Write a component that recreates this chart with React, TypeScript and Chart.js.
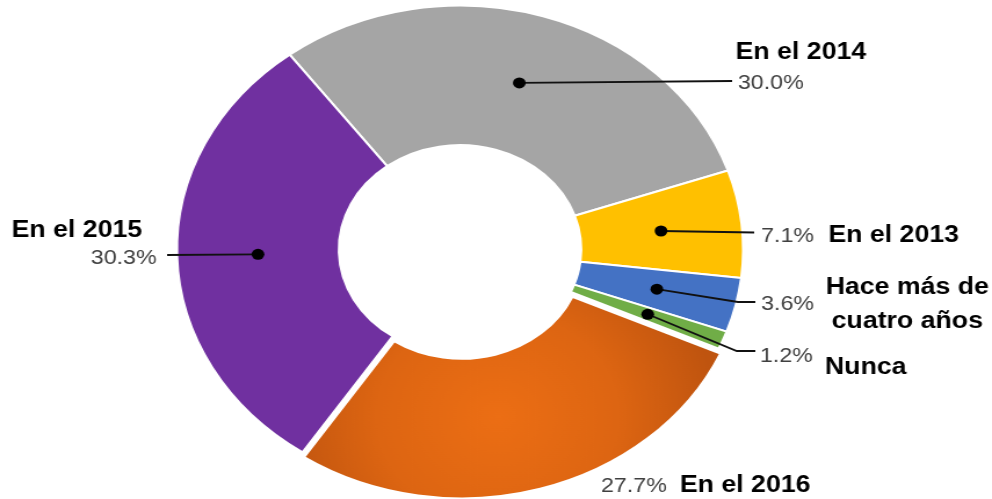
import React, { useEffect, useRef } from "react";
import { Chart, registerables } from "chart.js";

Chart.register(...registerables);

// ---- data ----
const categories = ["En el 2014", "En el 2013", "Hace más de cuatro años", "Nunca", "En el 2016", "En el 2015"];
const values = [30.0, 7.1, 3.6, 1.2, 27.7, 30.3];
const percentLabels = ["30.0%", "7.1%", "3.6%", "1.2%", "27.7%", "30.3%"];
const nameLines = [["En el 2014"], ["En el 2013"], ["Hace más de", "cuatro años"], ["Nunca"], ["En el 2016"], ["En el 2015"]];
const colors = ["#A5A5A5", "#FFC000", "#4472C4", "#70AD47", "#E46C0A", "#7030A0"];

// horizontal stretch of the whole picture
const STRETCH = 1.16;
const W = Math.round(992 / STRETCH);
const H = 499;

// label layout (internal canvas coordinates)
type Lay = {
  dot: boolean;
  leader: number[][];
  pct: { x: number; y: number; align: CanvasTextAlign };
  name: { x: number; y: number; align: CanvasTextAlign; gap: number };
};
const layouts: Lay[] = [
  { dot: true, leader: [[631, 81]], pct: { x: 636, y: 89, align: "left" }, name: { x: 634, y: 59, align: "left", gap: 0 } },
  { dot: true, leader: [[650, 232.5]], pct: { x: 656, y: 241.5, align: "left" }, name: { x: 714, y: 242, align: "left", gap: 0 } },
  { dot: true, leader: [[636, 302], [651, 302]], pct: { x: 656, y: 310, align: "left" }, name: { x: 782, y: 293.5, align: "center", gap: 34 } },
  { dot: true, leader: [[635, 351], [651, 351]], pct: { x: 655, y: 362, align: "left" }, name: { x: 711, y: 374, align: "left", gap: 0 } },
  { dot: false, leader: [], pct: { x: 518, y: 492, align: "left" }, name: { x: 586, y: 492, align: "left", gap: 0 } },
  { dot: true, leader: [[144, 255]], pct: { x: 135, y: 264, align: "right" }, name: { x: 10, y: 236.5, align: "left", gap: 0 } },
];

const labelPlugin = {
  id: "calloutLabels",
  beforeDatasetsDraw(chart: any) {
    const meta = chart.getDatasetMeta(0);
    const arc = meta.data[4];
    if (!arc) return;
    const p = arc.getCenterPoint();
    const g = chart.ctx.createRadialGradient(p.x - 20, p.y - 15, 0, p.x - 20, p.y - 15, 190);
    g.addColorStop(0, "#EC6E14");
    g.addColorStop(0.55, "#DD6512");
    g.addColorStop(1, "#BF540F");
    arc.options.backgroundColor = g;
  },
  afterDatasetsDraw(chart: any) {
    const ctx: CanvasRenderingContext2D = chart.ctx;
    const meta = chart.getDatasetMeta(0);
    ctx.save();
    meta.data.forEach((arc: any, i: number) => {
      const lay = layouts[i];
      const c = arc.getCenterPoint();
      if (lay.dot) {
        ctx.strokeStyle = "#111";
        ctx.lineWidth = 1.8;
        ctx.beginPath();
        ctx.moveTo(c.x, c.y);
        lay.leader.forEach((pt) => ctx.lineTo(pt[0], pt[1]));
        ctx.stroke();
        ctx.fillStyle = "#000";
        ctx.beginPath();
        ctx.arc(c.x, c.y, 5.5, 0, Math.PI * 2);
        ctx.fill();
      }
      ctx.textBaseline = "alphabetic";
      ctx.font = "20px 'Liberation Sans', Arial, sans-serif";
      ctx.fillStyle = "#404040";
      ctx.textAlign = lay.pct.align;
      ctx.fillText(percentLabels[i], lay.pct.x, lay.pct.y);
      ctx.font = "bold 23px 'Liberation Sans', Arial, sans-serif";
      ctx.fillStyle = "#000";
      ctx.textAlign = lay.name.align;
      nameLines[i].forEach((t, k) => ctx.fillText(t, lay.name.x, lay.name.y + k * lay.name.gap));
    });
    ctx.restore();
  },
};

export default function App() {
  const ref = useRef<HTMLCanvasElement | null>(null);
  useEffect(() => {
    document.body.style.margin = "0";
    const canvas = ref.current;
    if (!canvas) return;
    const chart = new Chart(canvas, {
      type: "doughnut",
      data: {
        labels: categories,
        datasets: [
          {
            data: values,
            backgroundColor: colors,
            borderColor: "#FFFFFF",
            borderWidth: 2,
            offset: [0, 0, 0, 0, 20, 0],
            hoverOffset: 0,
          } as any,
        ],
      },
      options: {
        responsive: false,
        animation: false,
        rotation: -37,
        cutout: "42.8%",
        radius: 244,
        layout: { padding: { left: 0, right: 62, top: 0, bottom: 0 } },
        plugins: { legend: { display: false }, tooltip: { enabled: false } },
        events: [],
      } as any,
      plugins: [labelPlugin],
    });
    return () => chart.destroy();
  }, []);
  return (
    <div style={{ width: 992, height: H, overflow: "hidden", background: "#fff" }}>
      <div style={{ width: W, height: H, transform: `scaleX(${992 / W})`, transformOrigin: "0 0" }}>
        <canvas ref={ref} width={W} height={H} />
      </div>
    </div>
  );
}
